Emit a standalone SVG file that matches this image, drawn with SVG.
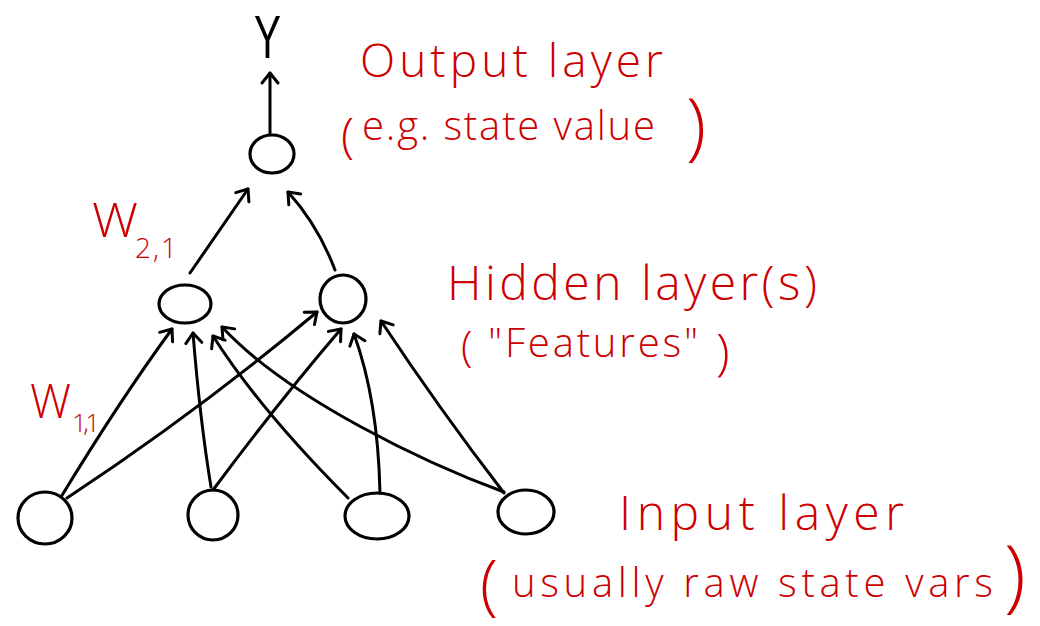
<svg xmlns="http://www.w3.org/2000/svg" width="1040" height="626" viewBox="0 0 1040 626">
<style>
.node{fill:none;stroke:#000;stroke-width:3.2}
.edge{fill:none;stroke:#000;stroke-width:3;stroke-linecap:round;marker-end:url(#ah)}
.lbl{font-family:"Open Sans","Liberation Sans",sans-serif;font-weight:300;fill:#cc0000}
.blk{font-family:"Liberation Sans","Open Sans",sans-serif;fill:#000}
</style>
<defs>
<marker id="ah" viewBox="0 0 20 20" refX="10" refY="10" markerWidth="20" markerHeight="20" markerUnits="userSpaceOnUse" orient="auto" overflow="visible">
<path d="M0 2 L10 10 L0 18" fill="none" stroke="#000" stroke-width="3" stroke-linecap="round" stroke-linejoin="round"/>
</marker>
</defs>
<rect width="1040" height="626" fill="#fff"/>
<g id="connectors">
<path class="edge" d="M270 133 L270 73"/>
<path class="edge" d="M190 273 L248 189"/>
<path class="edge" d="M335 270 Q318 225 288 192"/>
<path class="edge" d="M61 497 Q120 400 172 329"/>
<path class="edge" d="M67 498 Q200 410 317 312"/>
<path class="edge" d="M211 487 Q200 420 193 333"/>
<path class="edge" d="M213 490 Q280 400 341 329"/>
<path class="edge" d="M348 498 Q260 410 213 336"/>
<path class="edge" d="M380 493 Q378 400 354 334"/>
<path class="edge" d="M504 492 C430 465 290 400 222 327"/>
<path class="edge" d="M504 493 Q440 410 381 321"/>
</g>
<g id="y-label"><text class="blk" x="254" y="58" font-size="62" textLength="27" lengthAdjust="spacingAndGlyphs">Y</text></g>
<g id="output-node"><ellipse class="node" cx="272" cy="154" rx="22" ry="19"/></g>
<g id="hidden-node-1"><ellipse class="node" cx="185" cy="304" rx="26" ry="19"/></g>
<g id="hidden-node-2"><ellipse class="node" cx="343" cy="299" rx="23" ry="24"/></g>
<g id="input-node-1"><ellipse class="node" cx="45" cy="518" rx="27" ry="26"/></g>
<g id="input-node-2"><ellipse class="node" cx="213" cy="515" rx="25" ry="25"/></g>
<g id="input-node-3"><ellipse class="node" cx="377" cy="516" rx="32" ry="23"/></g>
<g id="input-node-4"><ellipse class="node" cx="526" cy="512" rx="28" ry="22"/></g>
<g id="labels">
<text class="lbl" x="360" y="77" font-size="46" textLength="303" lengthAdjust="spacing">Output layer</text>
<text class="lbl"><tspan x="341" y="152" font-size="48">(</tspan><tspan x="362" y="140" font-size="40" textLength="293" lengthAdjust="spacing">e.g. state value</tspan><tspan x="686" y="151" font-size="74">)</tspan></text>
<text class="lbl"><tspan x="92" y="237" font-size="48" textLength="46" lengthAdjust="spacingAndGlyphs">W</tspan><tspan x="135" y="258" font-size="28" textLength="42" lengthAdjust="spacing">2,1</tspan></text>
<text class="lbl"><tspan x="30" y="418" font-size="48" textLength="41" lengthAdjust="spacingAndGlyphs">W</tspan><tspan x="72" y="432" font-size="26" textLength="28" lengthAdjust="spacing">1,1</tspan></text>
<text class="lbl" x="447" y="300" font-size="48" textLength="370" lengthAdjust="spacing">Hidden layer(s)</text>
<text class="lbl"><tspan x="461" y="361" font-size="42">(</tspan><tspan x="488" y="357" font-size="40" textLength="210" lengthAdjust="spacing">"Features"</tspan><tspan x="716" y="370" font-size="50">)</tspan></text>
<text class="lbl" x="619" y="530" font-size="48" textLength="285" lengthAdjust="spacing">Input layer</text>
<text class="lbl"><tspan x="480" y="608" font-size="66">(</tspan><tspan x="512" y="597" font-size="40" textLength="481" lengthAdjust="spacing">usually raw state vars</tspan><tspan x="1004" y="602" font-size="80">)</tspan></text>
</g>
</svg>
